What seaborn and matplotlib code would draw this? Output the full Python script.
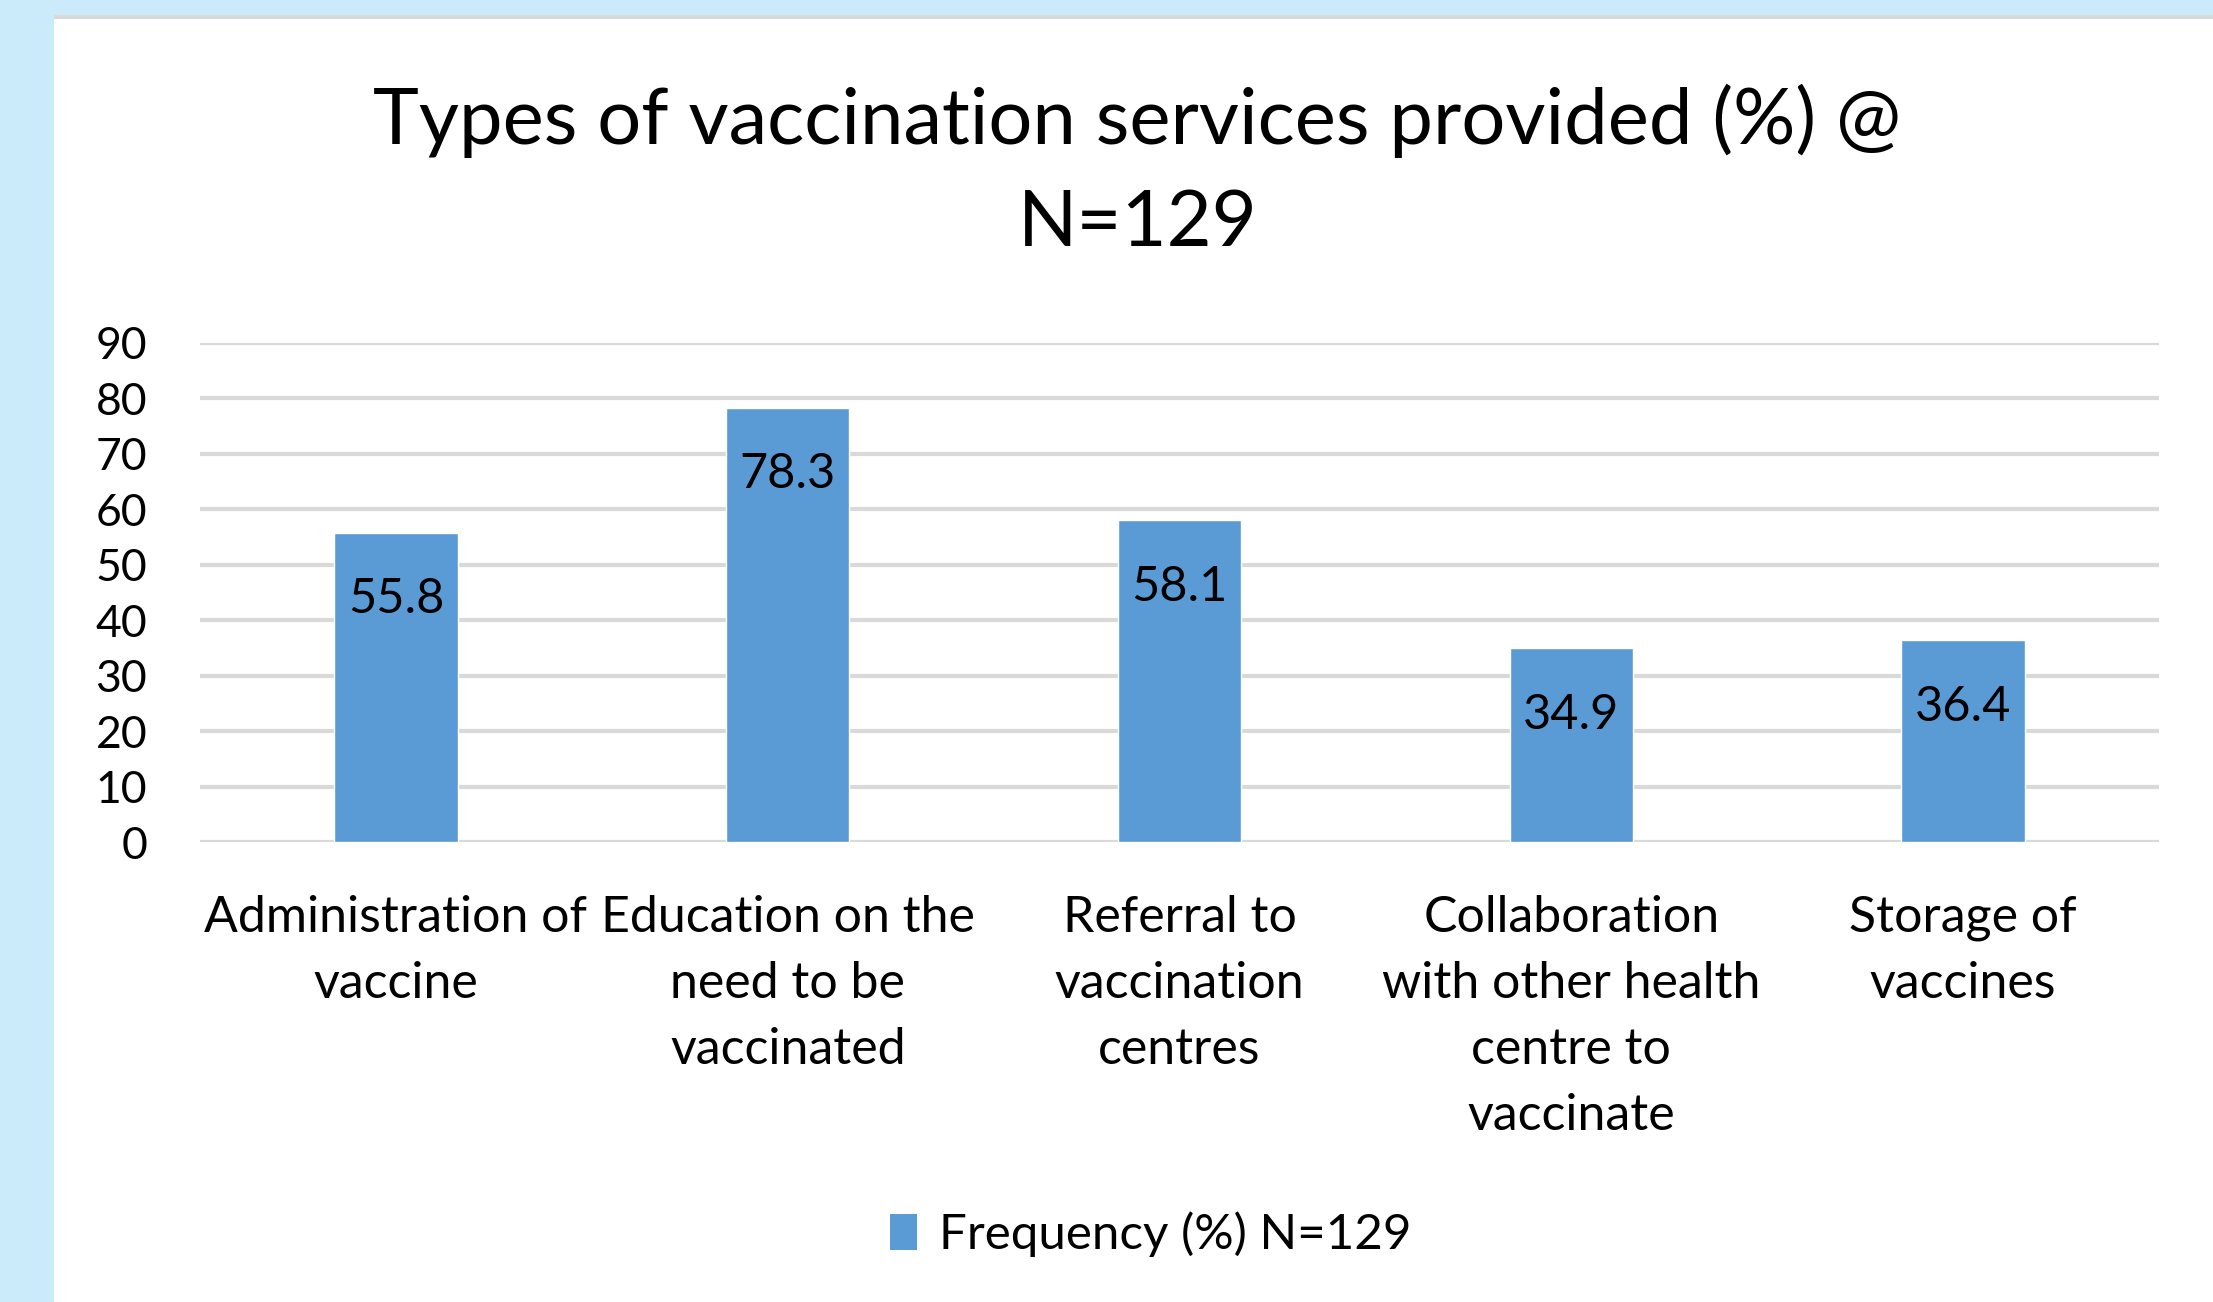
import matplotlib
matplotlib.use("Agg")
import matplotlib.pyplot as plt
from matplotlib.patches import Rectangle, Patch
import seaborn as sns

# chart data
categories = [
    "Administration of\nvaccine",
    "Education on the\nneed to be\nvaccinated",
    "Referral to\nvaccination\ncentres",
    "Collaboration\nwith other health\ncentre to\nvaccinate",
    "Storage of\nvaccines",
]
values = [55.8, 78.3, 58.1, 34.9, 36.4]
y_ticks = [0, 10, 20, 30, 40, 50, 60, 70, 80, 90]
series_name = "Frequency (%) N=129"
title = "Types of vaccination services provided (%) @\nN=129"

bar_color = "#5B9BD5"
grid_color = "#D9D9D9"
band_color = "#CCEBFA"

sns.set_theme(style="white")
plt.rcParams["font.family"] = ["Lato", "DejaVu Sans"]
plt.rcParams["text.color"] = "black"
plt.rcParams["xtick.color"] = "black"
plt.rcParams["ytick.color"] = "black"

fig = plt.figure(figsize=(22.13, 13.02), dpi=100)
ax = fig.add_axes([0.0904, 0.3533, 0.8852, 0.3833])

sns.barplot(x=categories, y=values, color=bar_color, saturation=1,
            width=0.315, ax=ax, zorder=3)

ax.set_ylim(0, 90)
ax.set_yticks(y_ticks)
ax.set_yticklabels([str(t) for t in y_ticks])
ax.yaxis.grid(True, color=grid_color, linewidth=3, zorder=0)
ax.set_axisbelow(True)
for side in ["top", "right", "left", "bottom"]:
    ax.spines[side].set_visible(False)
ax.tick_params(axis="y", length=0, pad=38, labelsize=32, labelcolor="black")
ax.tick_params(axis="x", length=0, pad=38, labelsize=36, labelcolor="black")
for lbl in ax.get_xticklabels():
    lbl.set_linespacing(1.54)
ax.set_xlabel("")
ax.set_ylabel("")

# value labels inside top of bars
for i, v in enumerate(values):
    ax.annotate(f"{v}", xy=(i, v), xytext=(0, -48), textcoords="offset points",
                ha="center", va="center", fontsize=35, color="black")

# title
fig.text(0.514, 0.868, title, ha="center", va="center", fontsize=56,
         linespacing=1.53, color="black")

# legend
handle = Patch(facecolor=bar_color, edgecolor="none")
leg = fig.legend([handle], [series_name], loc="center", bbox_to_anchor=(0.52, 0.052),
                 frameon=False, fontsize=35.5, handlelength=0.55, handleheight=0.75,
                 handletextpad=0.45)
for t in leg.get_texts():
    t.set_color("black")

# light blue frame on the left and top, grey rule under the top band
fig.patches.append(Rectangle((0, 0), 54 / 2213, 1, transform=fig.transFigure,
                             facecolor=band_color, edgecolor="none", zorder=0))
fig.patches.append(Rectangle((0, 1 - 15 / 1302), 1, 15 / 1302, transform=fig.transFigure,
                             facecolor=band_color, edgecolor="none", zorder=0))
fig.patches.append(Rectangle((54 / 2213, 1 - 19 / 1302), 1, 4 / 1302, transform=fig.transFigure,
                             facecolor=grid_color, edgecolor="none", zorder=0))

fig.savefig("out.png", dpi=100)
